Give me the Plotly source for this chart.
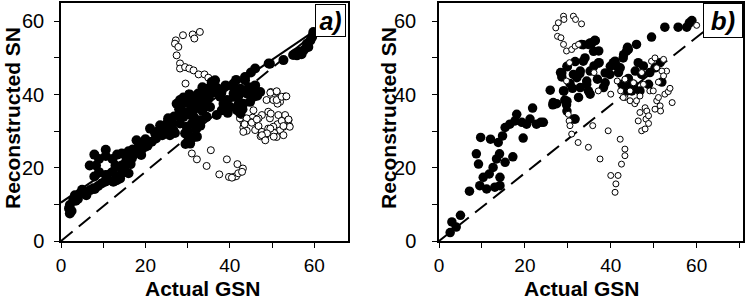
import plotly.graph_objects as go

# ---------------- Panel a data ----------------
fa_x = [2.1, 1.9, 2.1, 2.5, 2.9, 3.3, 4.5, 5.7, 6.9, 7.7, 8.8, 9.6, 10.4, 11.2, 12.4, 13.2, 14.0, 14.4,
        12.9, 12.2, 10.6, 9.0, 8.3, 9.0, 10.6, 12.2,
        14.4, 13.3, 10.6, 7.9, 6.8, 7.9, 10.6, 13.3, 14.0, 15.0,
        14.4, 15.6, 16.8, 17.5, 18.3, 17.9, 19.9, 21.5, 21.1, 22.3, 23.9, 25.4, 25.8, 24.0, 26.6, 26.2, 23.5, 25.4, 20.5, 16.0, 19.0,
        4.0, 3.5, 5.0, 6.0, 8.0, 15.5, 17.0, 18.5, 20.0, 22.5, 23.0, 24.5, 19.0, 16.5, 25.0, 26.8, 27.0, 16.0,
        27.4, 28.2, 28.6, 29.0, 29.4, 29.8, 30.2, 30.6, 32.2, 31.4, 33.0, 33.8, 34.9, 36.1, 36.5, 35.3, 36.9, 37.7,
        34.5, 33.0, 30.6, 28.2, 35.7, 34.5, 28.2, 29.0, 30.6, 32.2, 28.0, 29.5, 31.0, 32.0, 33.5, 31.0, 32.0, 30.0,
        31.5, 33.0, 34.0, 35.0, 36.0, 37.0, 29.0, 30.5, 27.8, 32.5, 33.5, 31.3, 29.5,
        39.3, 40.9, 40.9, 42.5, 43.6, 44.0, 45.6, 47.2, 40.1, 41.7, 43.2, 44.8, 38.1, 40.9, 42.1, 45.6, 40.8,
        43.6, 38.5, 39.5, 42.0, 43.0, 46.0, 44.5, 41.5, 38.0, 39.0, 46.5, 42.5,
        46.0, 49.2, 52.7, 55.5, 56.3, 57.5, 58.3, 59.1, 59.5, 59.8, 59.8, 58.6, 57.0, 55.0, 45.0, 49.5, 55.9, 58.2]
fa_y = [7.5, 8.9, 9.8, 8.2, 11.2, 12.5, 13.0, 13.4, 13.9, 14.4, 15.0, 15.7, 16.2, 16.6, 16.2, 16.6, 17.1, 18.5,
        20.6, 22.4, 23.2, 22.4, 20.6, 18.8, 18.0, 18.8,
        20.6, 23.6, 24.9, 23.6, 20.6, 17.6, 16.3, 17.6, 20.3, 19.5,
        23.9, 23.5, 22.6, 23.9, 25.3, 27.5, 25.7, 27.1, 30.7, 29.4, 31.2, 33.0, 28.9, 28.9, 30.3, 32.5, 31.6, 33.5, 26.0, 24.5, 24.8,
        11.5, 11.0, 14.0, 12.5, 14.2, 22.0, 25.0, 26.5, 27.8, 28.0, 30.0, 30.5, 23.5, 21.0, 31.8, 34.0, 29.5, 18.5,
        37.5, 38.5, 35.7, 33.9, 29.4, 31.2, 27.5, 26.6, 28.5, 35.7, 37.5, 39.4, 41.2, 43.0, 43.9, 36.6, 34.4, 39.4,
        33.9, 33.0, 34.4, 32.1, 43.4, 41.6, 37.5, 34.4, 35.7, 38.5, 36.0, 37.8, 38.0, 36.5, 35.5, 32.0, 30.5, 30.0,
        33.8, 31.5, 37.5, 39.0, 40.5, 41.8, 39.2, 40.0, 34.3, 40.3, 42.0, 28.3, 26.5,
        38.5, 40.3, 43.0, 41.6, 43.9, 40.3, 41.2, 40.7, 36.6, 35.7, 37.5, 38.0, 35.7, 39.4, 37.5, 39.4, 42.1,
        44.8, 37.5, 35.0, 39.5, 36.0, 42.5, 42.0, 44.0, 40.5, 42.5, 39.7, 34.8,
        47.1, 48.5, 49.4, 51.2, 51.7, 52.1, 53.9, 54.8, 55.7, 56.6, 57.1, 53.0, 51.0, 50.8, 46.0, 48.4, 50.7, 52.9]

oa_x = [27.2, 28.9, 31.2, 32.9, 31.6, 27.0, 27.8, 27.4, 28.2, 28.2, 29.4, 30.4, 31.4, 32.6, 34.0, 34.9, 29.5, 30.2,
        31.0, 32.2, 34.5, 35.5, 37.5, 39.3, 39.8, 40.9, 41.5, 42.0, 41.8, 43.1, 42.9, 40.5,
        49.7, 51.1, 53.1, 51.9, 48.7, 50.3, 51.3, 53.1, 53.9, 54.1, 52.7, 51.9, 51.3, 50.3, 49.5, 49.1, 47.6, 46.8,
        45.4, 45.0, 43.2, 43.2, 44.0, 46.0, 46.8, 47.6, 47.3, 48.3, 48.7, 49.1, 50.5, 51.1, 52.7, 42.4, 42.8,
        45.6, 44.0, 43.5, 43.2, 45.2, 46.4, 49.6, 51.1, 51.1, 52.3, 53.4, 51.5, 52.3, 53.9, 54.2, 52.7, 49.7,
        49.6, 48.8, 47.6, 50.4, 48.4]
oa_y = [54.8, 56.2, 56.4, 57.1, 55.3, 53.9, 53.0, 50.7, 48.5, 47.1, 47.5, 47.1, 46.6, 45.5, 45.5, 44.6, 43.0, 40.3,
        23.9, 22.3, 20.5, 24.8, 18.2, 22.3, 17.5, 17.5, 17.7, 18.5, 21.0, 19.8, 18.9, 17.3,
        40.7, 40.7, 39.5, 38.0, 38.5, 38.5, 37.5, 34.4, 33.0, 31.4, 31.2, 30.3, 31.9, 31.2, 33.5, 35.3, 34.4, 33.5,
        33.7, 32.5, 32.5, 31.0, 30.1, 30.3, 31.4, 29.8, 28.6, 28.3, 29.4, 30.7, 29.5, 28.4, 28.9, 33.5, 34.4,
        35.7, 33.5, 31.9, 29.8, 32.3, 33.2, 40.5, 40.9, 38.5, 39.4, 39.5, 34.4, 32.8, 33.2, 31.2, 31.4, 34.8,
        30.7, 29.4, 28.9, 28.5, 27.5]

# lines for panel a
fit_a_x = [0, 60]
fit_a_y = [10.5, 57.3]
ref_a_x = [0, 60]
ref_a_y = [0, 56.7]

# ---------------- Panel b data ----------------
fb_x = [2.6, 3.0, 4.0, 5.0, 7.1, 9.5, 8.7, 9.2, 9.7, 10.3, 11.1, 11.7, 12.0, 12.6, 13.0, 13.4, 13.8, 14.1, 14.2,
        14.2, 14.8, 15.4, 15.4, 17.2, 16.5, 17.7, 18.1, 19.3, 19.6, 20.4, 21.2, 21.8, 22.7, 23.7, 24.3,
        25.9, 26.5, 27.4, 28.3, 28.6, 29.1, 29.3, 29.7, 29.9, 30.5, 31.1, 31.4, 31.7, 32.1, 32.5, 32.8, 33.2,
        34.0, 34.4, 34.8, 35.2, 35.6, 36.1, 36.3, 36.9, 37.2, 37.3, 38.3, 38.7, 39.8, 40.6, 41.4, 41.8, 42.2,
        42.9, 43.7, 43.9, 44.1, 44.3, 44.9, 45.3, 45.7, 46.0, 46.4, 46.8, 47.2, 47.6, 48.8, 49.1, 49.5, 50.3,
        51.5, 51.9, 52.6, 55.7, 57.7, 58.3, 58.9,
        26.6, 29.8, 29.8, 31.7, 29.0, 28.6, 29.8, 31.3, 32.9, 33.6, 34.4, 35.2, 36.0, 37.1, 34.8, 33.6,
        35.2, 36.4, 38.7, 39.9, 41.0, 43.0, 44.1, 42.6, 43.8, 45.3, 32.9]
fb_y = [2.3, 5.2, 3.8, 7.0, 13.6, 15.1, 23.8, 21.0, 28.3, 17.4, 14.2, 18.3, 27.8, 20.1, 14.7, 22.4, 26.9, 23.8, 17.4,
        15.1, 28.7, 31.0, 21.5, 23.0, 31.9, 32.8, 34.6, 32.4, 28.1, 31.9, 33.3, 36.3, 31.9, 32.4, 32.4,
        41.2, 37.2, 37.5, 46.0, 44.8, 41.0, 38.5, 37.2, 47.6, 43.0, 41.7, 33.3, 49.0, 44.6, 39.2, 45.7, 53.7,
        50.0, 42.8, 53.7, 40.1, 54.1, 47.8, 54.8, 44.2, 51.9, 48.7, 41.9, 43.2, 45.5, 48.7, 47.8, 46.0, 47.3,
        50.0, 51.9, 52.9, 44.4, 42.3, 41.0, 41.9, 46.4, 53.7, 48.7, 41.0, 45.5, 47.8, 42.8, 46.0, 55.7, 47.3,
        48.7, 43.4, 58.4, 58.4, 58.4, 59.6, 60.2,
        37.8, 38.2, 35.5, 33.3, 41.0, 45.9, 47.7, 45.5, 46.4, 49.1, 43.7, 46.4, 51.8, 48.6, 41.0, 53.6,
        54.1, 54.7, 45.9, 47.7, 49.1, 50.9, 52.3, 42.8, 41.0, 42.8, 41.9]

ob_x = [27.2, 27.8, 29.0, 29.1, 31.3, 31.8, 33.2, 27.6, 28.4, 29.0, 29.7, 30.9, 31.7, 32.5,
        30.4, 29.7, 30.1, 30.3, 30.5, 30.9, 32.4, 34.8, 35.8, 36.1, 37.1, 37.5, 39.4, 40.0, 40.0, 41.2, 41.0,
        41.7, 42.2, 42.5, 43.3, 43.3, 43.3,
        41.5, 42.3, 42.9, 43.3, 44.5, 45.6, 46.0, 46.8, 47.2, 47.6, 48.0, 48.2, 48.4, 48.8, 48.8, 49.1, 49.5,
        49.9, 50.3, 50.7, 50.3, 50.7, 51.1, 51.5, 51.6, 52.3, 52.6, 53.0, 53.4, 53.8, 54.3, 47.2, 48.0, 46.4,
        46.8, 44.5, 45.3, 51.9, 52.3, 60.0, 51.1]
ob_y = [58.2, 59.6, 61.4, 60.5, 61.4, 60.5, 59.3, 55.9, 55.5, 53.7, 51.9, 52.3, 53.2, 53.7,
        48.7, 43.7, 34.6, 32.8, 31.5, 29.2, 26.9, 25.6, 31.5, 46.0, 41.0, 22.4, 30.1, 40.1, 17.9, 15.6, 13.3,
        17.9, 27.8, 21.0, 23.3, 25.1, 39.2,
        43.7, 41.0, 39.2, 44.2, 38.3, 37.5, 38.3, 39.6, 46.0, 42.8, 36.4, 33.3, 35.5, 32.1, 34.2, 41.0, 49.1,
        41.0, 50.0, 47.3, 36.0, 38.3, 39.2, 36.9, 35.5, 49.6, 40.1, 46.4, 40.8, 41.7, 37.8, 30.1, 30.6, 32.8,
        35.1, 41.0, 43.2, 46.4, 45.1, 58.9, 43.4]

ref_b_x = [0, 62]
ref_b_y = [0, 57.5]

x_ticks = [0, 20, 40, 60]
y_ticks = [0, 20, 40, 60]

W, H = 745, 300
FONT = "Liberation Sans, Arial, sans-serif"

fig = go.Figure()

# panel a
fig.add_trace(go.Scatter(x=ref_a_x, y=ref_a_y, mode="lines", xaxis="x", yaxis="y",
                         line=dict(color="black", width=2, dash="15px,8px")))
fig.add_trace(go.Scatter(x=fit_a_x, y=fit_a_y, mode="lines", xaxis="x", yaxis="y",
                         line=dict(color="black", width=2)))
fig.add_trace(go.Scatter(x=oa_x, y=oa_y, mode="markers", xaxis="x", yaxis="y",
                         marker=dict(size=7, color="white", line=dict(color="black", width=1))))
fig.add_trace(go.Scatter(x=fa_x, y=fa_y, mode="markers", xaxis="x", yaxis="y",
                         marker=dict(size=10, color="black", line=dict(width=0))))

# panel b
fig.add_trace(go.Scatter(x=ref_b_x, y=ref_b_y, mode="lines", xaxis="x2", yaxis="y2",
                         line=dict(color="black", width=2, dash="15px,8px")))
fig.add_trace(go.Scatter(x=fb_x, y=fb_y, mode="markers", xaxis="x2", yaxis="y2",
                         marker=dict(size=9.5, color="black", line=dict(width=0))))
fig.add_trace(go.Scatter(x=ob_x, y=ob_y, mode="markers", xaxis="x2", yaxis="y2",
                         marker=dict(size=6, color="white", line=dict(color="black", width=1))))

def px_x(p):
    return p / W

def px_y(p):
    return 1 - p / H

axis_common = dict(showline=True, mirror=True, linecolor="black", linewidth=1.5,
                   ticks="outside", ticklen=5, tickwidth=1, tickcolor="black",
                   showgrid=False, zeroline=False, tickvals=x_ticks, automargin=False,
                   tickfont=dict(family=FONT, size=20, color="black"),
                   minor=dict(dtick=10, ticks="outside", ticklen=5, tickcolor="black", showgrid=False))

x_tickfont = dict(family=FONT, size=19, color="black")

fig.update_layout(
    template="none",
    width=W, height=H, margin=dict(l=0, r=0, t=0, b=0, pad=0),
    paper_bgcolor="white", plot_bgcolor="white", showlegend=False,
    xaxis=dict(domain=[px_x(61), px_x(348)], range=[0, 68], anchor="y", ticklabelstandoff=1, **axis_common),
    yaxis=dict(domain=[px_y(241), px_y(3)], range=[0, 65], anchor="x", ticklabelstandoff=6, **axis_common),
    xaxis2=dict(domain=[px_x(439), px_x(743)], range=[0, 70.8], anchor="y2", ticklabelstandoff=1, **axis_common),
    yaxis2=dict(domain=[px_y(241), px_y(3)], range=[0, 65], anchor="x2", ticklabelstandoff=12, **axis_common),
)
fig.update_xaxes(tickfont=x_tickfont)

title_font = dict(family=FONT, size=21, color="black")
annos = [
    dict(text="<b>Actual GSN</b>", x=px_x(203), y=px_y(288), xref="paper", yref="paper",
         xanchor="center", yanchor="middle", showarrow=False, font=title_font),
    dict(text="<b>Actual GSN</b>", x=px_x(582), y=px_y(288), xref="paper", yref="paper",
         xanchor="center", yanchor="middle", showarrow=False, font=title_font),
    dict(text="<b>Reconstructed SN</b>", x=px_x(12), y=px_y(118), xref="paper", yref="paper",
         xanchor="center", yanchor="middle", showarrow=False, textangle=-90, font=title_font),
    dict(text="<b>Reconstructed SN</b>", x=px_x(388), y=px_y(118), xref="paper", yref="paper",
         xanchor="center", yanchor="middle", showarrow=False, textangle=-90, font=title_font),
    dict(text="<b><i>a)</i></b>", x=px_x(346), y=px_y(4), xref="paper", yref="paper",
         xanchor="right", yanchor="top", showarrow=False, width=27, height=29,
         bgcolor="white", bordercolor="black", borderwidth=1, borderpad=1,
         font=dict(family=FONT, size=25, color="black")),
    dict(text="<b><i>b)</i></b>", x=px_x(743), y=px_y(3), xref="paper", yref="paper",
         xanchor="right", yanchor="top", showarrow=False, width=36, height=31,
         bgcolor="white", bordercolor="black", borderwidth=1, borderpad=1,
         font=dict(family=FONT, size=26, color="black")),
]
fig.update_layout(annotations=annos)

fig.write_html("out.html", config={"displayModeBar": False},
               post_script="document.body.style.margin='0';document.body.style.overflow='hidden';")
